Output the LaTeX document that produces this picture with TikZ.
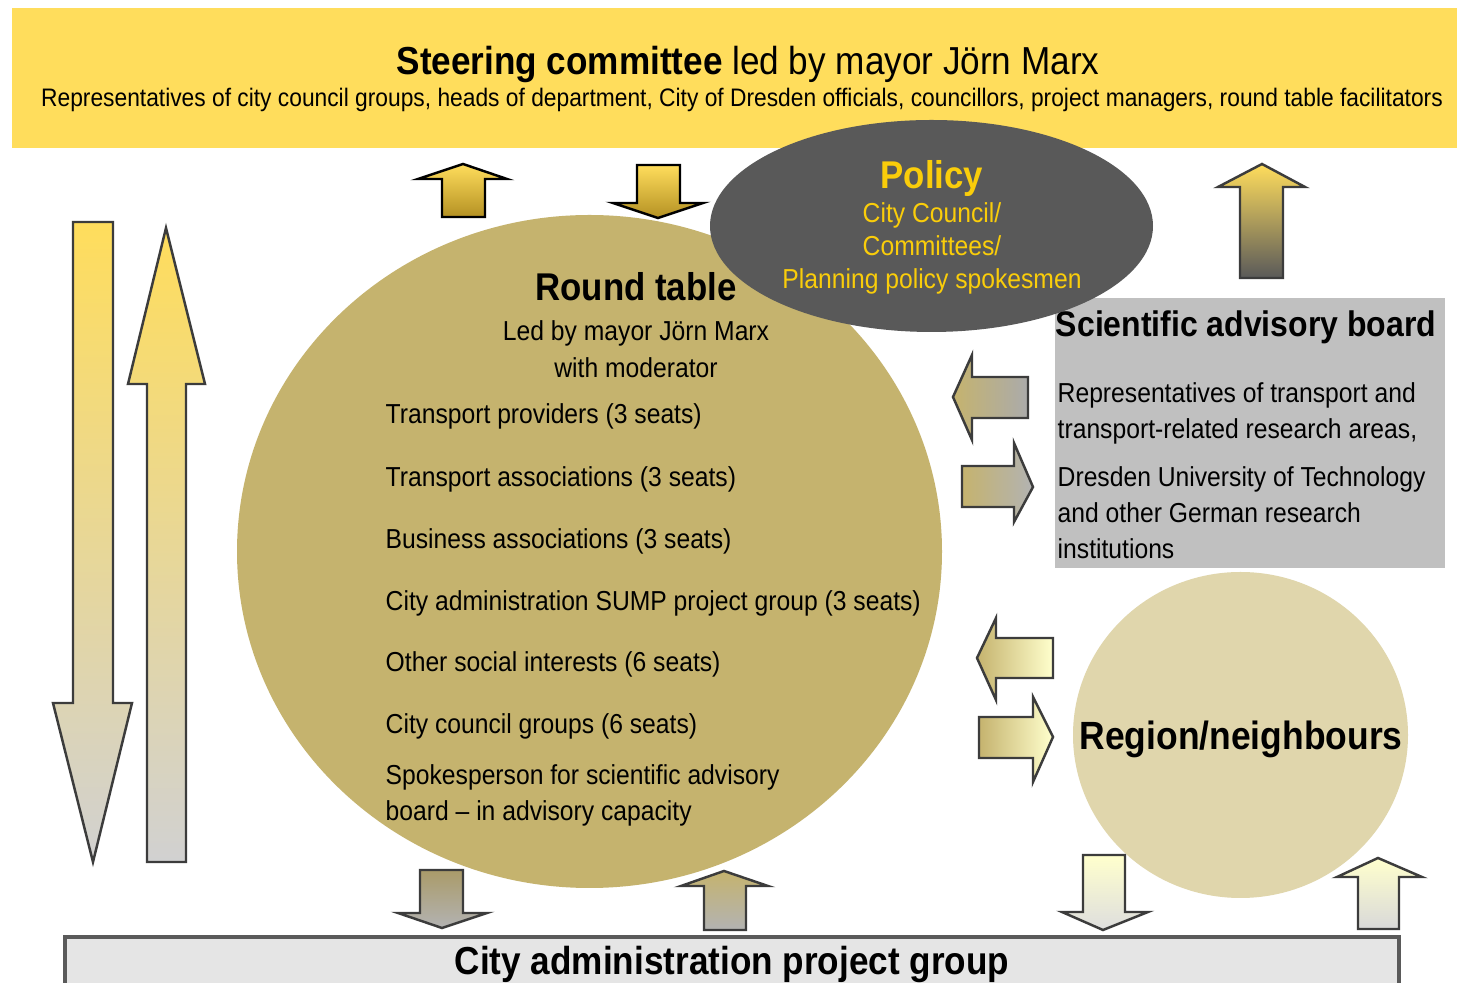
\documentclass[tikz,border=0pt]{standalone}
\usepackage{fontspec}
\setmainfont{Liberation Sans}[FakeStretch=0.9]
\usepackage{tikz}

\definecolor{banneryellow}{RGB}{255,221,92}
\definecolor{policygrey}{RGB}{89,89,89}
\definecolor{policytext}{RGB}{250,205,10}
\definecolor{tablegold}{RGB}{197,179,110}
\definecolor{sciencegrey}{RGB}{192,192,192}
\definecolor{regionbeige}{RGB}{224,214,172}
\definecolor{barfill}{RGB}{229,229,229}
\definecolor{barline}{RGB}{90,90,90}
\definecolor{arrowline}{RGB}{60,60,60}
\definecolor{lightyellow}{RGB}{255,255,205}

\tikzstyle{blockarrow} = [draw=arrowline, line width=0.7pt, line join=miter]
\tikzstyle{bigtext} = [inner sep=0, anchor=base, font=\bfseries\fontsize{11}{13}\selectfont]
\tikzstyle{smalltext} = [inner sep=0, anchor=base, font=\fontsize{7.8}{9}\selectfont]
\tikzstyle{listtext} = [inner sep=0, anchor=base west, font=\fontsize{7.8}{9}\selectfont]

\begin{document}
\begin{tikzpicture}[x=0.01cm, y=-0.01cm]
  \useasboundingbox (0,0) rectangle (1457,983);
  \fill[white] (0,0) rectangle (1457,983);

  % steering committee banner
  \fill[banneryellow] (12,8) rectangle (1457,148);
  \node[inner sep=0, anchor=base, font=\fontsize{11.1}{13}\selectfont] (steering) at (748,75)
    {\textbf{Steering committee} led by mayor Jörn Marx};
  \node[inner sep=0, anchor=base, font=\fontsize{7.2}{8}\selectfont] (steeringreps) at (742,107)
    {Representatives of city council groups, heads of department, City of Dresden officials, councillors, project managers, round table facilitators};

  % round table, science box, policy, region
  \fill[tablegold] (589.5,551.5) ellipse [x radius=352.5, y radius=336.5];
  \fill[sciencegrey] (1055,298) rectangle (1445,568);
  \fill[policygrey] (931.5,226) ellipse [x radius=221.5, y radius=106];
  \fill[regionbeige] (1240.5,735) ellipse [x radius=167.5, y radius=163];

  % city administration bar
  \filldraw[fill=barfill, draw=barline, line width=1.2pt] (65,1000) -- (65,937) -- (1399,937) -- (1399,1000);
  \node[inner sep=0, anchor=base, font=\bfseries\fontsize{11.1}{13}\selectfont] (cityadmin) at (732,975)
    {City administration project group};

  % long arrows on the left
  \shade[blockarrow, top color=banneryellow, bottom color=black!18]
    (73,222) -- (113,222) -- (113,703) -- (132,703) -- (93,862) -- (53,703) -- (73,703) -- cycle;
  \shade[blockarrow, top color=banneryellow, bottom color=black!18]
    (147,862) -- (147,384) -- (128,384) -- (166,228) -- (205,384) -- (186,384) -- (186,862) -- cycle;

  % arrows to and from the steering committee
  \shade[blockarrow, draw=black, top color=banneryellow, bottom color={rgb,255:red,180;green,145;blue,35}]
    (442,217) -- (442,179) -- (418,179) -- (463,164) -- (507,179) -- (485,179) -- (485,217) -- cycle;
  \shade[blockarrow, draw=black, top color=banneryellow, bottom color={rgb,255:red,180;green,145;blue,35}]
    (637,165) -- (680,165) -- (680,203) -- (703,203) -- (658,218) -- (613,203) -- (637,203) -- cycle;
  \shade[blockarrow, top color=banneryellow, bottom color=black!65]
    (1240,278) -- (1240,187) -- (1218,187) -- (1262,164) -- (1305,187) -- (1283,187) -- (1283,278) -- cycle;

  % arrows between round table and scientific advisory board
  \shade[blockarrow, left color=tablegold, right color=black!33]
    (1028,377) -- (972,377) -- (972,355) -- (953,397) -- (972,440) -- (972,418) -- (1028,418) -- cycle;
  \shade[blockarrow, left color=tablegold, right color=black!30]
    (962,466) -- (1014,466) -- (1014,443) -- (1033,487) -- (1014,522) -- (1014,507) -- (962,507) -- cycle;

  % arrows between round table and region
  \shade[blockarrow, left color=tablegold, right color=lightyellow]
    (1053,638) -- (996,638) -- (996,618) -- (977,658) -- (996,700) -- (996,678) -- (1053,678) -- cycle;
  \shade[blockarrow, left color=tablegold, right color=lightyellow]
    (979,717) -- (1033,717) -- (1033,697) -- (1053,737) -- (1033,782) -- (1033,758) -- (979,758) -- cycle;

  % arrows to and from the city administration
  \shade[blockarrow, top color={rgb,255:red,170;green,155;blue,105}, bottom color=black!30]
    (420,870) -- (463,870) -- (463,913) -- (487,913) -- (442,928) -- (398,913) -- (420,913) -- cycle;
  \shade[blockarrow, top color=tablegold, bottom color=black!30]
    (704,930) -- (704,886) -- (681,886) -- (724,871) -- (768,886) -- (746,886) -- (746,930) -- cycle;
  \shade[blockarrow, top color=lightyellow, bottom color=black!13]
    (1083,855) -- (1125,855) -- (1125,912) -- (1148,912) -- (1103,930) -- (1062,912) -- (1083,912) -- cycle;
  \shade[blockarrow, top color=lightyellow, bottom color=black!15]
    (1358,929) -- (1358,877) -- (1337,877) -- (1378,858) -- (1422,877) -- (1399,877) -- (1399,929) -- cycle;

  % policy
  \node[bigtext, text=policytext] (policy) at (932,189) {Policy};
  \node[smalltext, text=policytext] (council) at (932,223) {City Council/};
  \node[smalltext, text=policytext] (committees) at (932,256) {Committees/};
  \node[smalltext, text=policytext] (spokesmen) at (932,289) {Planning policy spokesmen};

  % round table
  \node[bigtext] (roundtable) at (636,301) {Round table};
  \node[smalltext] (ledby) at (636,341) {Led by mayor Jörn Marx};
  \node[smalltext] (moderator) at (636,378) {with moderator};
  \node[listtext] (providers) at (385,424) {Transport providers (3 seats)};
  \node[listtext] (associations) at (385,487) {Transport associations (3 seats)};
  \node[listtext] (business) at (385,549) {Business associations (3 seats)};
  \node[listtext] (sump) at (385,611) {City administration SUMP project group (3 seats)};
  \node[listtext] (social) at (385,672) {Other social interests (6 seats)};
  \node[listtext] (councilgroups) at (385,734) {City council groups (6 seats)};
  \node[listtext] (spokesperson) at (385,785) {Spokesperson for scientific advisory};
  \node[listtext] (capacity) at (385,821) {board -- in advisory capacity};

  % scientific advisory board
  \node[bigtext, font=\bfseries\fontsize{10.1}{12}\selectfont] (science) at (1246,337) {Scientific advisory board};
  \node[listtext] (sciencereps) at (1057,403) {Representatives of transport and};
  \node[listtext] (sciencearea) at (1057,439) {transport-related research areas,};
  \node[listtext] (dresden) at (1057,487) {Dresden University of Technology};
  \node[listtext] (german) at (1057,523) {and other German research};
  \node[listtext] (institutions) at (1057,559) {institutions};

  % region
  \node[bigtext, font=\bfseries\fontsize{11.2}{13}\selectfont] (region) at (1241,750) {Region/neighbours};
\end{tikzpicture}
\end{document}
